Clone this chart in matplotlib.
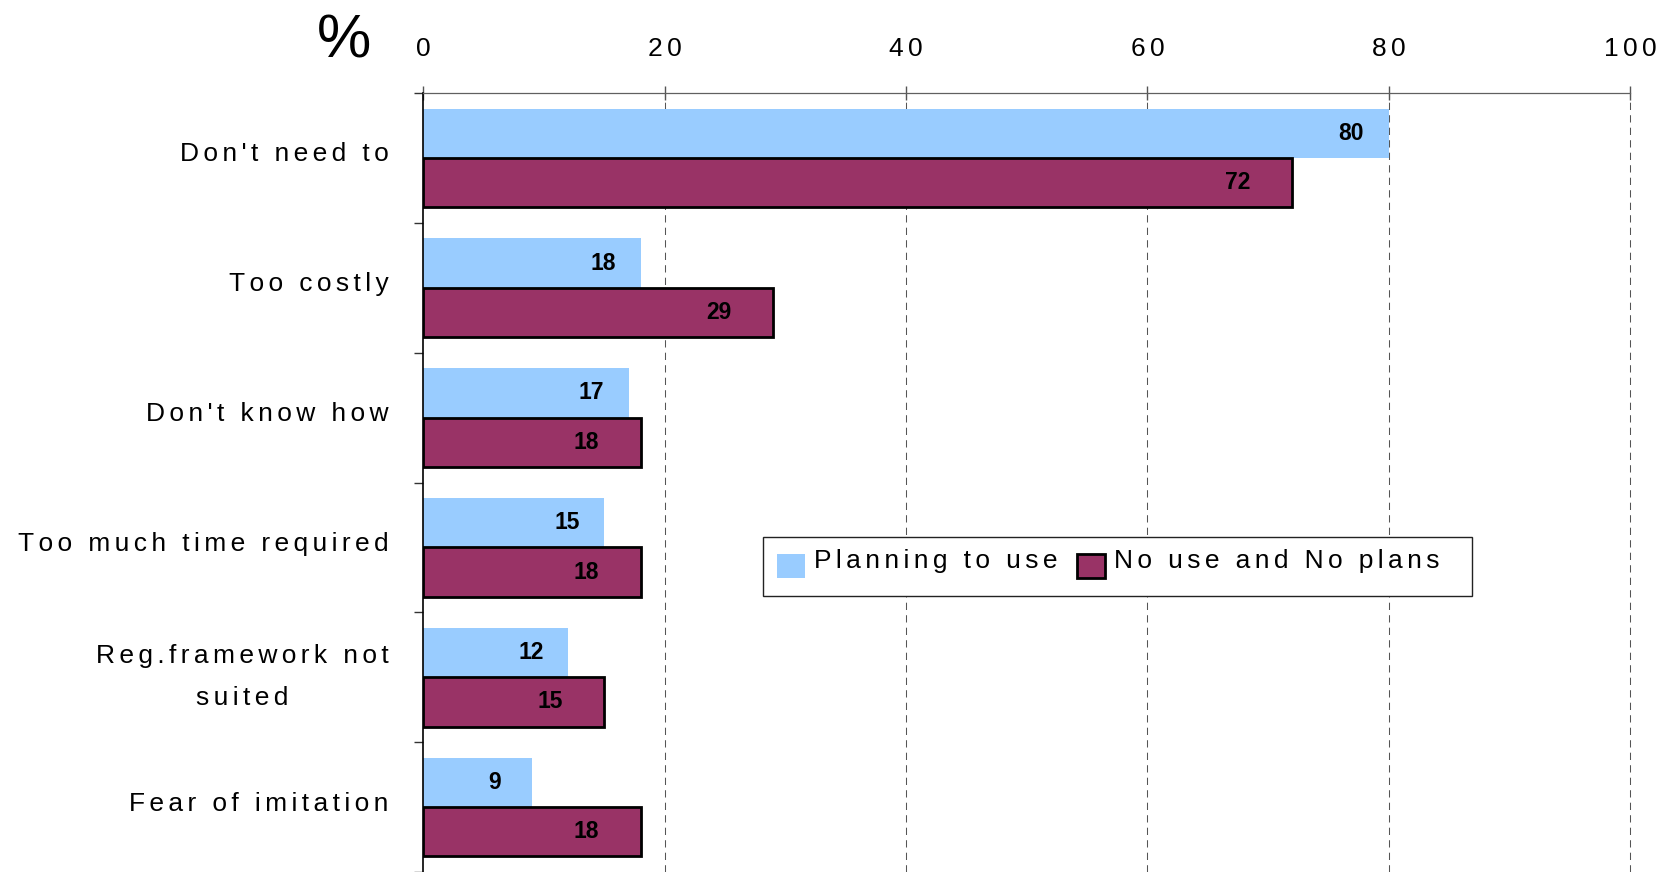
import numpy as np
import matplotlib
matplotlib.use("Agg")
import matplotlib.pyplot as plt
from matplotlib.patches import Patch, Rectangle
from matplotlib.legend_handler import HandlerPatch

# Survey results (% of respondents)
categories = [
    "Don't need to",
    "Too costly",
    "Don't know how",
    "Too much time required",
    "Reg.framework not\nsuited",
    "Fear of imitation",
]
planning_to_use = [80, 18, 17, 15, 12, 9]
no_use_no_plans = [72, 29, 18, 18, 15, 18]
series_names = ["Planning to use", "No use and No plans"]
x_ticks = [0, 20, 40, 60, 80, 100]

BLUE = "#99CCFF"
MAROON = "#993366"

plt.rcParams["font.family"] = ["Liberation Sans", "DejaVu Sans"]

TRACK = "\u2006"  # six-per-em space used as letter tracking


def tracked(s):
    return "\n".join(TRACK.join(line) for line in s.split("\n"))


W, H = 1675, 872
fig = plt.figure(figsize=(W / 100, H / 100), dpi=100)
left_px, right_px, top_px = 423.5, 1630, 93
ax = fig.add_axes([left_px / W, 0, (right_px - left_px) / W, 1 - top_px / H])

y = np.arange(len(categories))
h = 0.38
ax.barh(y - h / 2, planning_to_use, height=h, color=BLUE, edgecolor="none", zorder=2)
ax.barh(y + h / 2, no_use_no_plans, height=h, color=MAROON,
        edgecolor="black", linewidth=2, zorder=3)

ax.set_xlim(0, 100)
ax.set_ylim(len(categories) - 0.5, -0.5)

# dashed vertical gridlines
for xv in x_ticks[1:]:
    ax.axvline(xv, color="#555555", lw=0.75, ls=(0, (7, 5)), zorder=1, clip_on=False)

# value labels inside the bar ends
for i, v in enumerate(planning_to_use):
    ax.text(v - 3.1, i - h / 2, str(v), ha="center", va="center",
            fontsize=16.5, fontweight="bold", zorder=4)
for i, v in enumerate(no_use_no_plans):
    ax.text(v - 4.5, i + h / 2, str(v), ha="center", va="center",
            fontsize=16.5, fontweight="bold", zorder=4)

# spines
ax.spines["right"].set_visible(False)
ax.spines["bottom"].set_visible(False)
ax.spines["top"].set_color("#606060")
ax.spines["top"].set_linewidth(0.9)
ax.spines["left"].set_color("black")
ax.spines["left"].set_linewidth(1.2)

# x axis on top
ax.xaxis.tick_top()
ax.set_xticks(x_ticks, [tracked(str(t)) for t in x_ticks])
ax.tick_params(axis="x", which="major", direction="inout", length=10, width=1,
               color="#555555", pad=18, labelsize=19)

# category labels, with tick marks on the category boundaries
ax.set_yticks(y, [])
ax.set_yticks(np.arange(-0.5, len(categories) + 0.5, 1), minor=True)
ax.tick_params(axis="y", which="major", length=0)
ax.tick_params(axis="y", which="minor", length=6.5, width=1, color="#333333",
               direction="out")
for i, cat in enumerate(categories):
    extra_lines = cat.count("\n")
    ax.annotate(tracked(cat), xy=(0, i), xycoords=("axes fraction", "data"),
                xytext=(-25, 2.5 - 2.2 * extra_lines), textcoords="offset points",
                ha="right", va="center", multialignment="center",
                linespacing=1.95, fontsize=19)

fig.text(344 / W, 1 - 58 / H, "%", fontsize=44, ha="center", va="baseline")


# legend: swatches sit slightly below the text line, inside a plain box
def low_swatch(legend, orig_handle, xdescent, ydescent, width, height, fontsize):
    return Rectangle((-xdescent, -ydescent - 0.28 * fontsize), width, height)


ax.add_patch(Rectangle((0.2814, 0.3543), 0.5876, 0.0757, transform=ax.transAxes,
                       facecolor="white", edgecolor="#222222", linewidth=1,
                       zorder=5, clip_on=False))
handles = [
    Patch(facecolor=BLUE, edgecolor="none"),
    Patch(facecolor=MAROON, edgecolor="black", linewidth=2),
]
leg = ax.legend(handles, [tracked(n) for n in series_names], ncol=2,
                loc="center left", bbox_to_anchor=(0.2930, 0.4005),
                borderaxespad=0, borderpad=0, fontsize=19, frameon=False,
                handlelength=1.06, handleheight=1.0,
                handletextpad=0.35, columnspacing=0.72,
                handler_map={Patch: HandlerPatch(patch_func=low_swatch)})
leg.set_zorder(6)

fig.savefig("out.png", dpi=100)
